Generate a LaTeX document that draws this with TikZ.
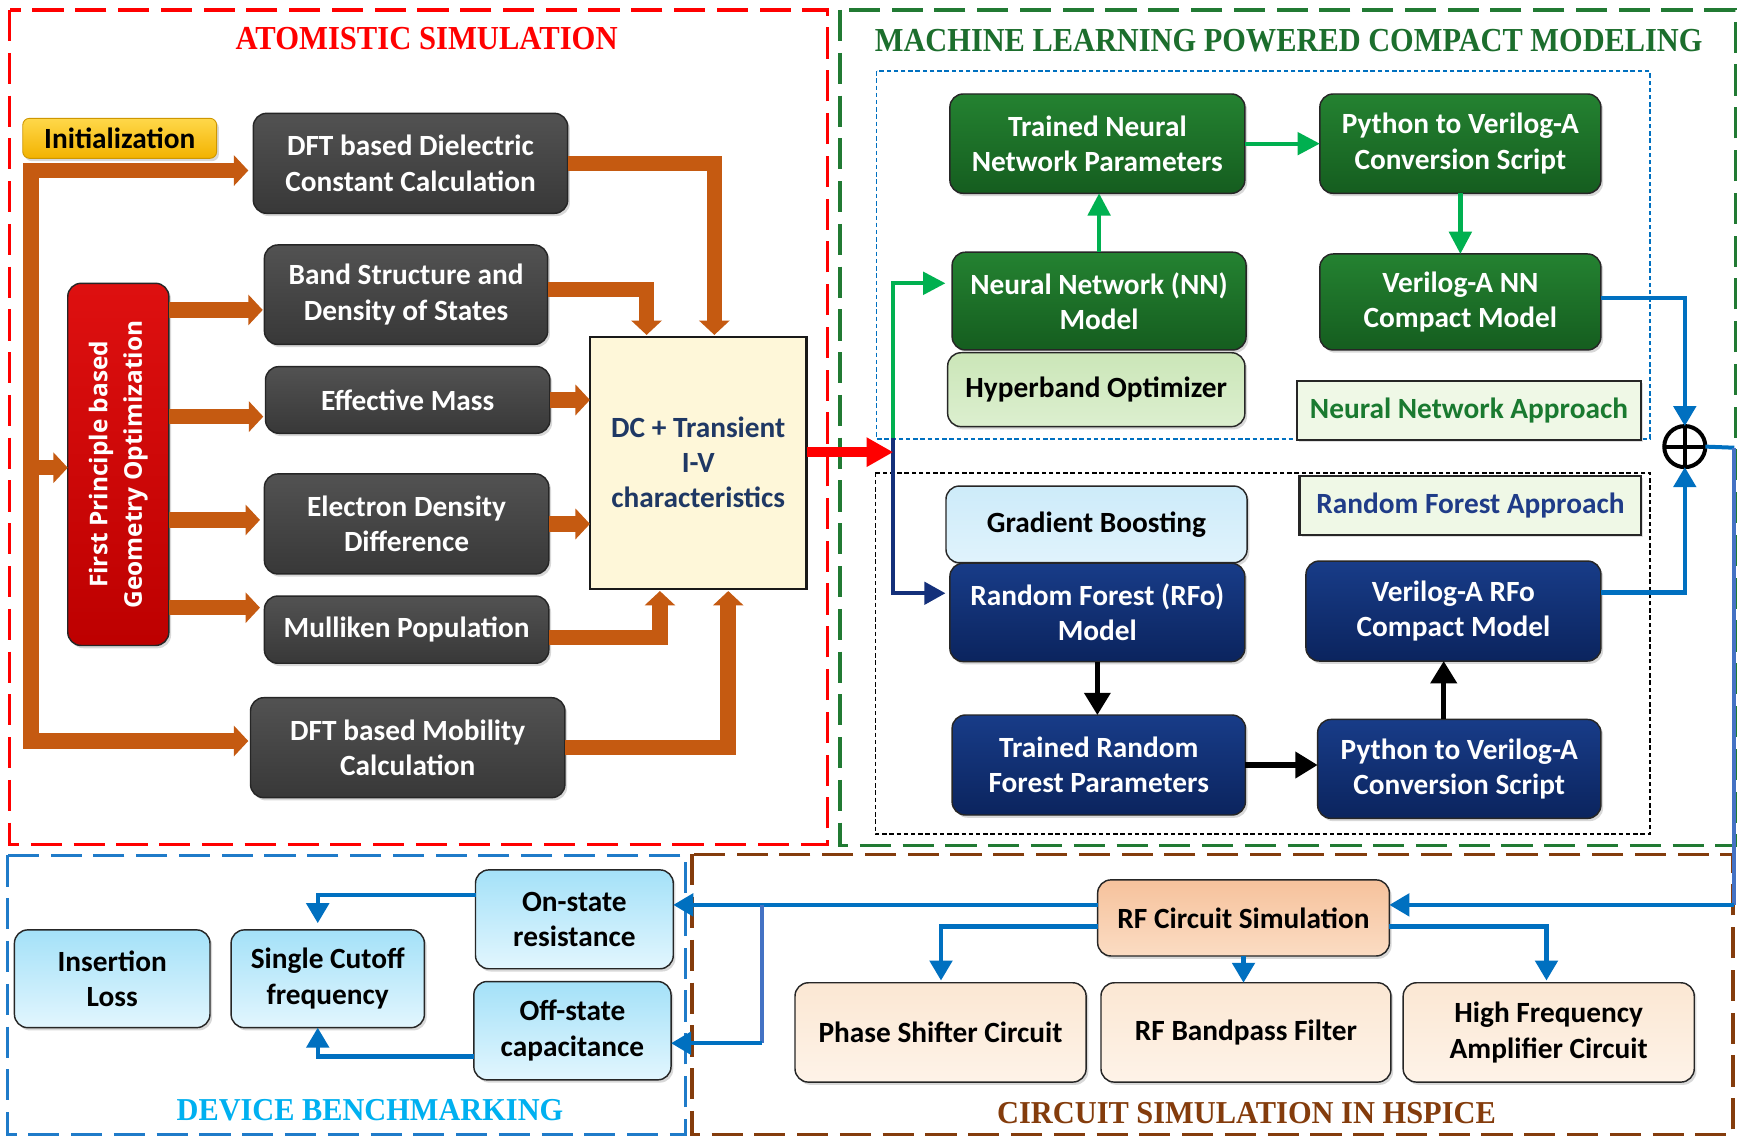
\documentclass[tikz,border=0pt]{standalone}
\usepackage{graphicx}
\usepackage{fontspec}
\usetikzlibrary{arrows.meta,shadows}

\newfontfamily\boxfamily{Carlito}
\newfontfamily\sidefamily{Open Sans}
\newfontfamily\headfamily{Liberation Serif}

% frame and title colours
\definecolor{atomRed}{HTML}{FF0000}
\definecolor{mlGreen}{HTML}{217A33}
\definecolor{mlTitle}{HTML}{1C6E2D}
\definecolor{benchBlue}{HTML}{1F7BC9}
\definecolor{benchTitle}{HTML}{00B0F0}
\definecolor{hspiceBrown}{HTML}{843C0C}
% connector colours
\definecolor{flowOrange}{HTML}{C55A11}
\definecolor{linkBlue}{HTML}{0070C0}
\definecolor{linkBlueSoft}{HTML}{4472C4}
\definecolor{linkGreen}{HTML}{00B050}
\definecolor{linkNavy}{HTML}{14307A}
% box fills
\definecolor{dftTop}{HTML}{525252}
\definecolor{dftBot}{HTML}{383838}
\definecolor{nnTop}{HTML}{248231}
\definecolor{nnBot}{HTML}{155D1F}
\definecolor{rfTop}{HTML}{183C88}
\definecolor{rfBot}{HTML}{0B245E}
\definecolor{geoTop}{HTML}{DE1010}
\definecolor{geoBot}{HTML}{BD0000}
\definecolor{initTop}{HTML}{FFD84A}
\definecolor{initBot}{HTML}{F2B200}
\definecolor{ivFill}{HTML}{FEF7D9}
\definecolor{ivText}{HTML}{1F3864}
\definecolor{skyTop}{HTML}{A4E1F8}
\definecolor{skyBot}{HTML}{E2F6FE}
\definecolor{gbTop}{HTML}{CDEBF9}
\definecolor{gbBot}{HTML}{E0F3FC}
\definecolor{hypTop}{HTML}{CBE6B8}
\definecolor{hypBot}{HTML}{DCEFCF}
\definecolor{peachTop}{HTML}{F6C29C}
\definecolor{peachBot}{HTML}{FBDCC3}
\definecolor{creamTop}{HTML}{FBE7D3}
\definecolor{creamBot}{HTML}{FEF3E8}
\definecolor{tagFill}{HTML}{EFF8E6}
\definecolor{tagGreen}{HTML}{1A7A30}
\definecolor{tagNavy}{HTML}{1F3C88}

% section headings: serif capitals fitted to a given width and cap height
\newcommand\mkheading[3]{\resizebox{#1}{#2}{\headfamily\bfseries\fontsize{30}{36}\selectfont #3}}

\tikzset{
  every node/.style={inner sep=0pt, outer sep=0pt},
  sized/.style 2 args={minimum width=#1pt, minimum height=#2pt},
  boxtext/.style={font=\boxfamily\bfseries\fontsize{26.4}{32}\selectfont, align=center},
  block/.style={boxtext, rounded corners=12pt, draw=black!85, line width=1.3pt,
    drop shadow={shadow xshift=2pt, shadow yshift=-2.5pt, opacity=0.3}},
  dftbox/.style={block, top color=dftTop, bottom color=dftBot, text=white},
  nnbox/.style={block, top color=nnTop, bottom color=nnBot, text=white},
  rfbox/.style={block, top color=rfTop, bottom color=rfBot, text=white},
  geobox/.style={block, top color=geoTop, bottom color=geoBot},
  initbox/.style={block, rounded corners=6pt, draw=initBot!85!black, line width=0.8pt,
    top color=initTop, bottom color=initBot, text=black},
  skybox/.style={block, top color=skyTop, bottom color=skyBot, text=black},
  gbbox/.style={block, top color=gbTop, bottom color=gbBot, text=black},
  hypbox/.style={block, top color=hypTop, bottom color=hypBot, text=black},
  peachbox/.style={block, top color=peachTop, bottom color=peachBot, text=black},
  creambox/.style={block, top color=creamTop, bottom color=creamBot, text=black},
  ivbox/.style={boxtext, draw=black!90, line width=2pt, fill=ivFill, text=ivText,
    font=\boxfamily\bfseries\fontsize{26.4}{31.5}\selectfont,
    drop shadow={shadow xshift=1.5pt, shadow yshift=-1.5pt, opacity=0.25}},
  tagbox/.style={boxtext, draw=black!85, line width=2.5pt, fill=tagFill,
    drop shadow={shadow xshift=1.5pt, shadow yshift=-1.5pt, opacity=0.25}},
  frame/.style={line width=3pt, dash pattern=on 28pt off 10.5pt},
  finedash/.style={line width=1.6pt, dash pattern=on 4pt off 2.5pt},
  orangeflow/.style={draw=flowOrange, line width=14pt, line join=miter,
    -{Triangle[length=13pt,width=27pt]}},
  redflow/.style={draw=red, line width=8.5pt, -{Triangle[length=24pt,width=25pt]}},
  greenflow/.style={draw=linkGreen, line width=3.8pt, line join=miter,
    -{Triangle[length=20pt,width=20pt]}},
  navyflow/.style={draw=linkNavy, line width=3.8pt, line join=miter,
    -{Triangle[length=19pt,width=20pt]}},
  blackflow/.style={draw=black, line width=4.6pt, -{Triangle[length=20pt,width=23pt]}},
  blueflow/.style={draw=linkBlue, line width=4pt, line join=miter,
    -{Triangle[length=18pt,width=20pt]}},
  blueline/.style={draw=#1, line width=3.6pt, line join=miter},
}

\begin{document}
\begin{tikzpicture}[x=1pt, y=-1pt]
\useasboundingbox (0,0) rectangle (1568,1024);
\fill[white] (0,0) rectangle (1568,1024);

% ---------- section frames ----------
\draw[frame, atomRed]     (8.8,9)  rectangle (745,760);
\draw[frame, mlGreen]     (756,9)  rectangle (1562,761);
\draw[frame, benchBlue]   (7,770)  rectangle (617,1021);
\draw[frame, hspiceBrown] (623,769) rectangle (1560,1021);

% ---------- section headings ----------
\node[text=atomRed]     (hAtom)  at (384,35)   {\mkheading{344pt}{20pt}{ATOMISTIC SIMULATION}};
\node[text=mlTitle]     (hML)    at (1160,37)  {\mkheading{745pt}{20pt}{MACHINE LEARNING POWERED COMPACT MODELING}};
\node[text=benchTitle]  (hBench) at (333,999)  {\mkheading{348pt}{19pt}{DEVICE BENCHMARKING}};
\node[text=hspiceBrown] (hSpice) at (1122,1002){\mkheading{449pt}{19pt}{CIRCUIT SIMULATION IN HSPICE}};

% ---------- approach groups ----------
\draw[finedash, linkBlue] (789,64) rectangle (1485,395);
\draw[finedash, black]    (788,425.5) rectangle (1485,751);

% ---------- atomistic simulation ----------
\node[initbox, sized={174.5}{36}] (init) at (107.75,124.5) {Initialization};
\node[dftbox, sized={283}{90}]   (dft1)   at (369.5,147)   {DFT based Dielectric\\Constant Calculation};
\node[dftbox, sized={255}{89.5}] (band)   at (365.5,265.25){Band Structure and\\Density of States};
\node[dftbox, sized={256}{60}]   (eff)    at (367,360)     {Effective Mass};
\node[dftbox, sized={256}{90}]   (elec)   at (366,471.6)   {Electron Density\\Difference};
\node[dftbox, sized={256}{60.5}] (mull)   at (366,566.75)  {Mulliken Population};
\node[dftbox, sized={283}{90}]   (dftmob) at (367,673)     {DFT based Mobility\\Calculation};
\node[geobox, sized={91}{326}]   (geo)    at (106.5,418)   {};
\node[rotate=90, text=white, align=center,
      font=\sidefamily\bfseries\fontsize{22}{31}\selectfont] (geotext) at (geo.center)
      {First Principle based\\Geometry Optimization};
\node[ivbox, sized={195}{227}]   (iv)     at (628.5,416.5) {DC + Transient\\I-V\\characteristics};

% ---------- machine learning compact modeling ----------
\node[nnbox, sized={265.5}{89.4}] (tnn) at (987.75,129.3) {Trained Neural\\Network Parameters};
\node[nnbox, sized={253}{89.4}]   (py1) at (1314.5,129.3) {Python to Verilog-A\\Conversion Script};
\node[nnbox, sized={264.6}{88}]   (nnm) at (989.3,271)    {Neural Network (NN)\\Model};
\node[nnbox, sized={253}{86.4}]   (vnn) at (1314.5,271.8) {Verilog-A NN\\Compact Model};
\node[hypbox, sized={267.5}{66.5}](hyp) at (986.75,350.75){Hyperband Optimizer};
\node[tagbox, sized={309.5}{53}, text=tagGreen] (nntag) at (1322.25,369.5) {Neural Network Approach};
\node[tagbox, sized={307}{53}, text=tagNavy]    (rftag) at (1323.5,455)    {Random Forest Approach};
\node[gbbox, sized={271}{69}]     (gb)  at (987,472)      {Gradient Boosting};
\node[rfbox, sized={265.5}{88.5}] (rfm) at (987.75,551.25){Random Forest (RFo)\\Model};
\node[rfbox, sized={264}{90}]     (trp) at (989,688.6)    {Trained Random\\Forest Parameters};
\node[rfbox, sized={255}{89}]     (py2) at (1313.5,692.1) {Python to Verilog-A\\Conversion Script};
\node[rfbox, sized={265.5}{90}]   (vrf) at (1308.25,550)  {Verilog-A RFo\\Compact Model};
\node[circle, draw=black, line width=3.6pt, minimum size=37pt,
      path picture={\draw[line width=3.6pt]
        (path picture bounding box.north) -- (path picture bounding box.south)
        (path picture bounding box.west) -- (path picture bounding box.east);}]
      (sum) at (1516.5,402) {};

% ---------- device benchmarking ----------
\node[skybox, sized={176}{88}]    (ins)    at (101,881)     {Insertion\\Loss};
\node[skybox, sized={174}{88}]    (cutoff) at (295,881)     {Single Cutoff\\frequency};
\node[skybox, sized={178}{89}]    (onst)   at (517,827.5)   {On-state\\resistance};
\node[skybox, sized={177.5}{88.5}](offst)  at (515.25,927.75){Off-state\\capacitance};

% ---------- circuit simulation ----------
\node[peachbox, sized={262.6}{68.5}] (rfsim) at (1119.3,826.25) {RF Circuit Simulation};
\node[creambox, sized={262}{89.4}]   (phase) at (846.6,929.3)   {Phase Shifter Circuit};
\node[creambox, sized={261}{89.4}]   (bpf)   at (1121.5,929.3)  {RF Bandpass Filter};
\node[creambox, sized={262}{89.4}]   (hfa)   at (1394,929.3)    {High Frequency\\Amplifier Circuit};

% ---------- atomistic flow ----------
\coordinate (trunkTop) at (28,153.5);
\coordinate (trunkMid) at (28,421);
\coordinate (trunkBot) at (28,667);
\draw[orangeflow, {Triangle[length=13pt,width=27pt]}-{Triangle[length=13pt,width=27pt]},
      shorten <=4.5pt, shorten >=2pt]
  (dft1.west |- trunkTop) -- (trunkTop) -- (trunkBot) -- (dftmob.west |- trunkBot);
\draw[orangeflow] (trunkMid) -- (geo.west |- trunkMid);
\draw[orangeflow, shorten >=1.5pt] (geo.east |- 0,279) -- (band.west |- 0,279);
\draw[orangeflow, shorten >=2pt]   (geo.east |- 0,375) -- (eff.west |- 0,375);
\draw[orangeflow, shorten >=4pt]   (geo.east |- 0,468) -- (elec.west |- 0,468);
\draw[orangeflow, shorten >=4pt]   (geo.east |- 0,547) -- (mull.west |- 0,547);
\draw[orangeflow, shorten >=1.5pt] (dft1.east |- 0,147) -| (643,0 |- iv.north);
\draw[orangeflow, shorten >=1.5pt] (band.east |- 0,260.5) -| (582,0 |- iv.north);
\draw[orangeflow] (eff.east) -- (iv.west |- eff.east);
\draw[orangeflow] (elec.east) -- (iv.west |- elec.east);
\draw[orangeflow, shorten >=2pt] (mull.east |- 0,574) -| (594,0 |- iv.south);
\draw[orangeflow, shorten >=2pt] (dftmob.east) -| (655.5,0 |- iv.south);

% ---------- hand-over to the learning models ----------
\coordinate (mlIn) at (804,407);
\coordinate (mlSplit) at (804,394);
\draw[greenflow, shorten >=6pt] (mlSplit) |- (nnm.west |- 0,255);
\draw[navyflow, shorten >=4pt]  (mlSplit) |- (rfm.west |- 0,534);
\draw[redflow] (iv.east |- mlIn) -- (mlIn);

% neural network chain
\draw[greenflow] (tnn.east) -- (py1.west);
\draw[greenflow] (nnm.north) -- (nnm.north |- tnn.south);
\draw[greenflow] (py1.south) -- (py1.south |- vnn.north);

% random forest chain
\draw[blackflow] (rfm.south) -- (rfm.south |- trp.north);
\draw[blackflow] (trp.east) -- (py2.west |- trp.east);
\draw[blackflow] (1299.5,0 |- py2.north) -- (1299.5,0 |- vrf.south);

% both compact models meet at the summing point
\draw[blueflow] (vnn.east |- 0,268) -| (sum.north);
\draw[blueflow] (vrf.east |- 0,533.5) -| (sum.south);
\coordinate (sumDrop) at (1561,403);
\coordinate (sumBack) at (1561,814.5);
\draw[blueline=linkBlue] (sum.east) -- (sumDrop);
\draw[blueline=linkBlueSoft] (sumDrop) -- (sumBack);
\draw[blueflow] (sumBack) -- (rfsim.east |- sumBack);

% ---------- circuit simulation outputs ----------
\coordinate (benchSplit) at (686,814.5);
\draw[blueflow] (rfsim.west |- benchSplit) -- (onst.east |- benchSplit);
\draw[blueline=linkBlueSoft] (benchSplit) -- (686,939);
\draw[blueflow] (686,939) -- (offst.east |- 0,939);
\draw[blueflow, shorten >=2pt] (rfsim.west |- 0,834) -| (847,0 |- phase.north);
\draw[blueflow] (rfsim.south) -- (rfsim.south |- bpf.north);
\draw[blueflow, shorten >=2pt] (rfsim.east |- 0,834) -| (1392,0 |- hfa.north);

% ---------- benchmarking ----------
\draw[blueflow, shorten >=6pt] (onst.west |- 0,805.5) -| (286,0 |- cutoff.north);
\draw[blueflow] (offst.west |- 0,951) -| (286,0 |- cutoff.south);
\end{tikzpicture}
\end{document}
